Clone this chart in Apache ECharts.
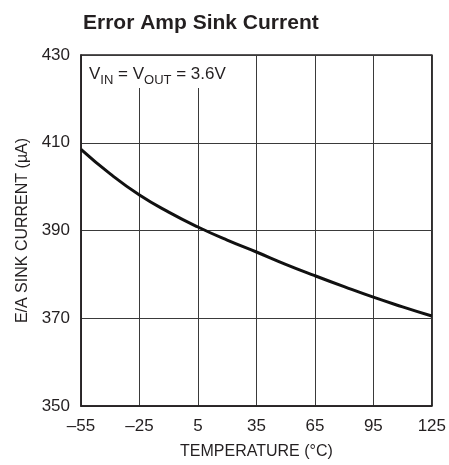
<!DOCTYPE html>
<html>
<head>
<meta charset="utf-8">
<script src="https://cdn.jsdelivr.net/npm/echarts@6/dist/echarts.min.js"></script>
<style>
  html, body { margin: 0; padding: 0; background: #fff; }
  #chart { width: 449px; height: 465px; }
</style>
</head>
<body>
<div id="chart"></div>
<script>
// temperature in °C, sink current in µA
const temps = [-55, -40, -25, -10, 5, 20, 35, 50, 65, 80, 95, 110, 125];
const sinkCurrent = [408.5, 402.9, 398.1, 394.2, 390.8, 387.8, 385.1, 382.3, 379.7, 377.2, 374.8, 372.6, 370.5];
const yTicks = [350, 370, 390, 410, 430];

// x axis is shifted so its ticks start at zero (ECharts counts ticks from min)
const X_OFFSET = -55;
const FONT = "'Liberation Sans Narrow', 'Liberation Sans', Arial, sans-serif";

const pts = temps.map((t, i) => [t - X_OFFSET, sinkCurrent[i]]);

const chart = echarts.init(document.getElementById('chart'), null, { renderer: 'canvas' });

chart.setOption({
    animation: false,
    title: {
        text: 'Error Amp Sink Current',
        left: 78,
        top: 8,
        textStyle: { fontFamily: FONT, fontWeight: 'bold', fontSize: 21, color: '#231f20' }
    },
    grid: {
        left: 81, right: 14, top: 55, bottom: 54,
        show: true, borderColor: '#231f20', borderWidth: 1.5
    },
    xAxis: {
        type: 'value',
        min: 0,
        max: 180,
        interval: 30,
        name: 'TEMPERATURE (°C)',
        nameLocation: 'middle',
        nameGap: 38,
        nameTextStyle: { fontFamily: FONT, fontSize: 16, color: '#231f20' },
        axisLine: { show: true, lineStyle: { color: '#231f20', width: 1.5 } },
        axisTick: { show: false },
        axisLabel: {
            margin: 12,
            fontFamily: FONT, fontSize: 17, color: '#231f20',
            formatter: v => {
                const t = v + X_OFFSET;
                return t < 0 ? '\u2013' + Math.abs(t) : String(t);
            }
        },
        splitLine: { show: true, lineStyle: { color: '#3a3a3a', width: 1 } }
    },
    yAxis: {
        type: 'value',
        min: yTicks[0],
        max: yTicks[yTicks.length - 1],
        interval: 20,
        name: 'E/A SINK CURRENT (µA)',
        nameLocation: 'middle',
        nameGap: 50,
        nameTextStyle: { fontFamily: FONT, fontSize: 16, color: '#231f20' },
        axisLine: { show: true, lineStyle: { color: '#231f20', width: 1.5 } },
        axisTick: { show: false },
        axisLabel: { margin: 11, fontFamily: FONT, fontSize: 17, color: '#231f20' },
        splitLine: { show: true, lineStyle: { color: '#3a3a3a', width: 1 } }
    },
    series: [{
        type: 'line',
        data: pts,
        smooth: true,
        showSymbol: false,
        lineStyle: { color: '#111', width: 3 },
        z: 3
    }],
    graphic: [
        {
            type: 'rect',
            shape: { x: 82, y: 56, width: 160, height: 32 },
            style: { fill: '#fff' },
            z: 10
        },
        {
            type: 'text',
            left: 89,
            top: 66,
            z: 11,
            style: {
                text: '{v|V}{s|IN}{v| = V}{s|OUT}{v| = 3.6V}',
                fontFamily: FONT,
                fill: '#231f20',
                rich: {
                    v: { fontFamily: FONT, fontSize: 17, color: '#231f20', verticalAlign: 'top', lineHeight: 20 },
                    s: { fontFamily: FONT, fontSize: 13, color: '#231f20', verticalAlign: 'top', padding: [8, 0, 0, 0], lineHeight: 20 }
                }
            }
        }
    ]
});
</script>
</body>
</html>
